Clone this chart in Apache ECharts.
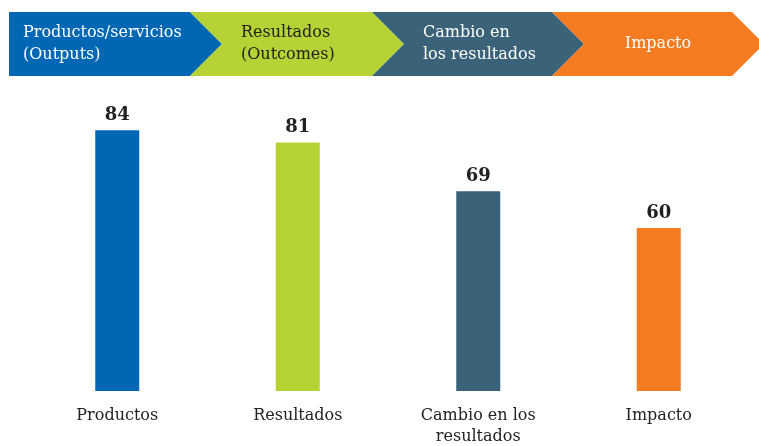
<!DOCTYPE html>
<html lang="es">
<head>
    <meta charset="UTF-8">
    <title>Productos, resultados e impacto</title>
    <script src="https://cdn.jsdelivr.net/npm/echarts@6.0.0/dist/echarts.min.js"></script>
    <style>
        html, body { margin: 0; padding: 0; background: #fff; }
        #chart { width: 759px; height: 446px; }
    </style>
</head>
<body>
    <div id="chart"></div>
    <script>
        // datos
        const categorias = ['Productos', 'Resultados', 'Cambio en los\nresultados', 'Impacto'];
        const valores = [84, 81, 69, 60];
        const colores = ['#0067b4', '#b5d334', '#3a6278', '#f47b20'];
        const etiquetasBanda = ['Productos/servicios\n(Outputs)', 'Resultados\n(Outcomes)', 'Cambio en\nlos resultados', 'Impacto'];
        const coloresTextoBanda = ['#ffffff', '#222222', '#ffffff', '#ffffff'];

        const fuente = '"DejaVu Serif", "Liberation Serif", serif';
        const chart = echarts.init(document.getElementById('chart'));

        // flechas de la banda superior
        const yArriba = 12, yAbajo = 76, yMedio = 44, punta = 32;
        const cortes = [9, 190, 372, 552, 732];
        const graficos = [];
        etiquetasBanda.forEach(function (txt, i) {
            const x0 = cortes[i], x1 = cortes[i + 1];
            const pts = [[x0, yArriba], [x1, yArriba], [x1 + punta, yMedio], [x1, yAbajo], [x0, yAbajo]];
            if (i > 0) pts.push([x0 + punta, yMedio]);
            graficos.push({
                type: 'polygon',
                shape: { points: pts },
                style: { fill: colores[i] },
                z: 1
            });
            const centrado = i === 3;
            graficos.push({
                type: 'text',
                x: centrado ? (x0 + x1 + punta) / 2 : x0 + (i === 0 ? 14 : 51),
                y: yMedio,
                style: {
                    text: txt,
                    fill: coloresTextoBanda[i],
                    font: '16px ' + fuente,
                    lineHeight: 22,
                    align: centrado ? 'center' : 'left',
                    verticalAlign: 'middle'
                },
                z: 2
            });
        });

        const option = {
            animation: false,
            graphic: graficos,
            grid: { left: 27, right: 10, top: 65, bottom: 55, outerBoundsMode: 'none' },
            xAxis: {
                type: 'category',
                data: categorias,
                axisLine: { show: false },
                axisTick: { show: false },
                axisLabel: {
                    interval: 0,
                    margin: 14,
                    fontFamily: fuente,
                    fontSize: 16,
                    lineHeight: 21,
                    color: '#222'
                }
            },
            yAxis: {
                type: 'value',
                min: 20,
                max: 100,
                show: false
            },
            series: [{
                type: 'bar',
                barWidth: 44,
                data: valores.map(function (v, i) {
                    return { value: v, itemStyle: { color: colores[i] } };
                }),
                label: {
                    show: true,
                    position: 'top',
                    distance: 6,
                    fontFamily: fuente,
                    fontSize: 18,
                    fontWeight: 'bold',
                    color: '#222'
                }
            }]
        };
        chart.setOption(option);
    </script>
</body>
</html>
